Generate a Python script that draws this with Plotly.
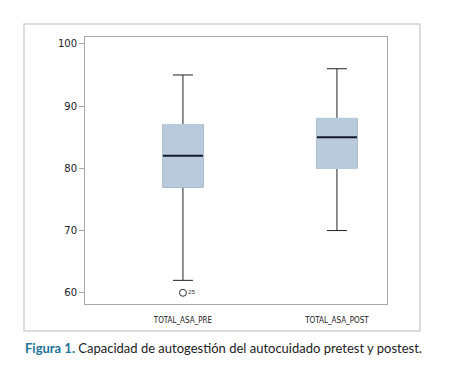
import plotly.graph_objects as go

categories = ["TOTAL_ASA_PRE", "TOTAL_ASA_POST"]
lower_whisker = [62, 70]
q1_values = [77, 80]
median_values = [82, 85]
q3_values = [87, 88]
upper_whisker = [95, 96]
outlier_cat = ["TOTAL_ASA_PRE"]
outlier_val = [60]
outlier_label = ["25"]
y_tickvals = [60, 70, 80, 90, 100]

FILL = "#b8cadc"
W = 0.26

fig = go.Figure()
fig.add_trace(go.Box(
    x=categories, q1=q1_values, median=median_values, q3=q3_values,
    lowerfence=lower_whisker, upperfence=upper_whisker,
    width=W, whiskerwidth=0.5, fillcolor=FILL,
    line=dict(color="#222222", width=1), boxpoints=False, hoverinfo="skip"))
fig.add_trace(go.Box(
    x=categories, q1=q1_values, median=median_values, q3=q3_values,
    lowerfence=q1_values, upperfence=q3_values,
    width=W, whiskerwidth=0, fillcolor=FILL,
    line=dict(color=FILL, width=1.6), boxpoints=False, hoverinfo="skip"))
fig.add_trace(go.Box(
    x=categories, q1=median_values, median=median_values, q3=median_values,
    lowerfence=median_values, upperfence=median_values,
    width=W, whiskerwidth=0, fillcolor="rgba(0,0,0,0)",
    line=dict(color="#111a2e", width=2), boxpoints=False, hoverinfo="skip"))
fig.add_trace(go.Scatter(
    x=outlier_cat, y=outlier_val, mode="markers+text",
    marker=dict(symbol="circle-open", size=7, color="#333333", line=dict(width=1)),
    text=outlier_label, textposition="middle right",
    textfont=dict(size=6, family="Liberation Sans", color="#333333"),
    cliponaxis=False, hoverinfo="skip"))

fig.update_layout(
    width=458, height=380,
    margin=dict(l=77, r=79, t=29, b=84),
    paper_bgcolor="white", plot_bgcolor="white",
    showlegend=False,
    xaxis=dict(
        type="category", categoryorder="array", categoryarray=categories,
        range=[-0.636, 1.325], showgrid=False, zeroline=False,
        showline=True, mirror=True, linecolor="#a8a8a8", linewidth=1,
        ticks="", ticklabelstandoff=8,
        tickfont=dict(family="DejaVu Sans Condensed, Liberation Sans", size=8, color="#222222")),
    yaxis=dict(
        range=[58.2, 101.1], tickvals=y_tickvals, showgrid=False, zeroline=False,
        showline=True, mirror=True, linecolor="#a8a8a8", linewidth=1,
        ticks="outside", ticklen=5, tickcolor="#a8a8a8",
        tickfont=dict(family="DejaVu Sans", size=10, color="#222222")),
    shapes=[dict(type="rect", xref="paper", yref="paper", layer="below",
                 x0=-0.202, x1=1.109, y0=-0.101, y1=1.0487,
                 line=dict(color="#d2d2d2", width=1.5), fillcolor="rgba(0,0,0,0)")],
    annotations=[dict(
        xref="paper", yref="paper", x=-0.205, y=-0.165, xanchor="left", yanchor="middle",
        showarrow=False,
        text="<span style='color:#1f7499'><b>Figura 1.</b></span> Capacidad de autogestión del autocuidado pretest y postest.",
        font=dict(family="Lato", size=13, color="#222222"))],
)

fig.write_html("out.html")
